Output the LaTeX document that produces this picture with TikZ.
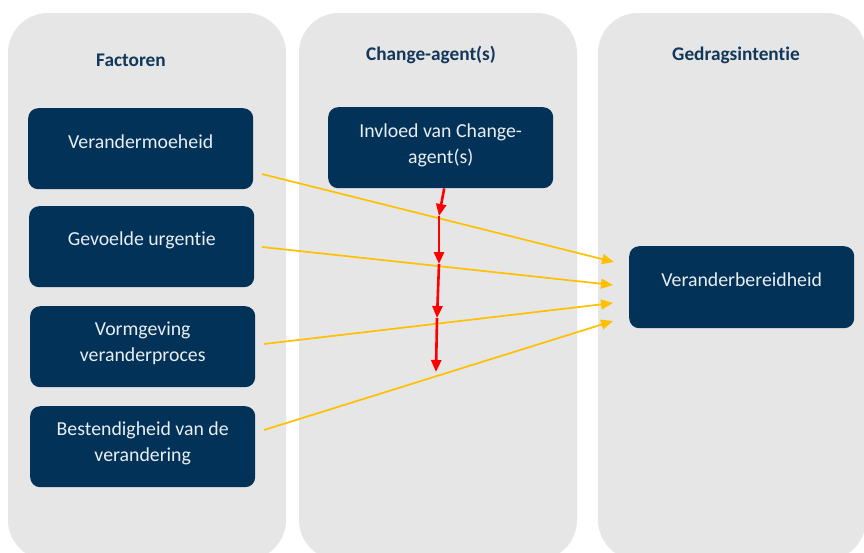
\documentclass[tikz,border=0pt]{standalone}
\usepackage{fontspec}
\setmainfont{Carlito}[Ligatures=NoCommon]
\usetikzlibrary{arrows.meta,calc}
\definecolor{lanegray}{HTML}{E6E6E6}
\definecolor{navy}{HTML}{033258}
\definecolor{headblue}{HTML}{12375A}
\definecolor{boxtxt}{HTML}{E9EEF2}
\definecolor{amber}{HTML}{FFC000}
\tikzset{
  lane/.style={fill=lanegray, draw=none, rounded corners=40pt},
  factor/.style={fill=navy, draw=none, rounded corners=10pt, minimum width=225pt,
    minimum height=81pt, anchor=north west, inner sep=0pt},
  boxtext/.style={text=boxtxt, font=\fontsize{19.8}{26}\selectfont, align=center, inner sep=0pt},
  header/.style={text=headblue, font=\bfseries\fontsize{19.3}{23}\selectfont, inner sep=0pt},
  influence/.style={draw=amber, line width=1.7pt, -{Triangle[length=12pt,width=10pt]}},
  moderator/.style={draw=red, line width=2.6pt, -{Triangle[length=12pt,width=10pt]}}
}
\begin{document}
\begin{tikzpicture}[x=1pt,y=-1pt]
  \useasboundingbox (0,0) rectangle (864,552);
  \clip (0,0) rectangle (864,552);
  \fill[white] (0,0) rectangle (864,552);

  % three lanes
  \path[lane] (8,13) rectangle (286,560);
  \path[lane] (299,13) rectangle (577,560);
  \path[lane] (598,13) rectangle (866,560);

  % lane headers
  \node[header] (h1) at (131,60) {Factoren};
  \node[header] (h2) at (431,55) {Change-agent(s)};
  \node[header] (h3) at (736,55) {Gedragsintentie};

  % boxes
  \node[factor] (f1) at (28,108) {};
  \node[factor] (f2) at (29,206) {};
  \node[factor] (f3) at (30,306) {};
  \node[factor] (f4) at (30,406) {};
  \node[factor] (ca) at (328,107) {};
  \node[factor, minimum height=82pt] (vb) at (629,246) {};

  % box labels
  \node[boxtext] (f1t) at ($(f1.north)+(0,34)$) {Verandermoeheid};
  \node[boxtext] (f2t) at ($(f2.north)+(0,34)$) {Gevoelde urgentie};
  \node[boxtext] (f3t) at ($(f3.north)+(0,37)$) {Vormgeving\\veranderproces};
  \node[boxtext] (f4t) at ($(f4.north)+(0,37)$) {Bestendigheid van de\\verandering};
  \node[boxtext] (cat) at ($(ca.north)+(0,38)$) {Invloed van Change-\\agent(s)};
  \node[boxtext] (vbt) at ($(vb.north)+(0,34)$) {Veranderbereidheid};

  % end points of the influence arrows
  \coordinate (y1s) at (262,174);
  \coordinate (y2s) at (262,247);
  \coordinate (y3s) at (264,344);
  \coordinate (y4s) at (264,430);
  \coordinate (y1e) at (614,262);
  \coordinate (y2e) at (613,285);
  \coordinate (y3e) at (613,303);
  \coordinate (y4e) at (613,321);

  \draw[influence] (y1s) -- (y1e);
  \draw[influence] (y2s) -- (y2e);
  \draw[influence] (y3s) -- (y3e);
  \draw[influence] (y4s) -- (y4e);

  % moderating chain from the change agent
  \coordinate (r0) at ($(ca.south)+(3.5,0)$);
  \coordinate (r1) at (439,216);
  \coordinate (r2) at (439,264);
  \coordinate (r3) at (437,318);
  \coordinate (r4) at (436,372);
  \draw[moderator] (r0) -- (r1);
  \draw[moderator] (r1) -- (r2);
  \draw[moderator] (r2) -- (r3);
  \draw[moderator] (r3) -- (r4);
\end{tikzpicture}
\end{document}
